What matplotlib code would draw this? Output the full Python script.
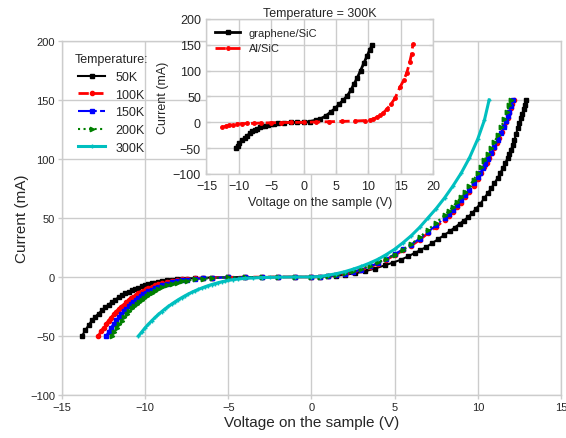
import numpy as np
import matplotlib
matplotlib.use("Agg")
import matplotlib.pyplot as plt

plt.rcParams['font.family'] = ['Liberation Sans', 'DejaVu Sans']
plt.rcParams['text.color'] = '#262626'
plt.rcParams['axes.labelcolor'] = '#262626'
plt.rcParams['xtick.color'] = '#262626'
plt.rcParams['ytick.color'] = '#262626'

# ---- main plot data: I-V curves at several temperatures ----
v_50K = [-13.8, -13.6, -13.4, -13.2, -13.0, -12.8, -12.6, -12.4, -12.2, -12.0, -11.8, -11.6,
         -11.4, -11.2, -11.0, -10.8, -10.6, -10.4, -10.2, -10.0, -9.8, -9.6, -9.4, -9.2,
         -9.0, -8.7, -8.4, -8.1, -7.8, -7.5, -7.0, -6.5, -6.0, -5.0, -4.0, -3.0, -2.0, -1.0,
         0.0, 0.5, 1.0, 1.5, 2.0, 2.6, 3.2, 3.8, 4.4, 4.9, 5.4, 5.8, 6.2, 6.55, 6.9, 7.25,
         7.6, 7.95, 8.3, 8.6, 8.9, 9.15, 9.4, 9.65, 9.9, 10.15, 10.4, 10.6, 10.8, 11.0,
         11.2, 11.35, 11.5, 11.65, 11.8, 11.9, 12.0, 12.1, 12.2, 12.3, 12.4, 12.5, 12.6,
         12.68, 12.75, 12.83, 12.9]
i_50K = [-50, -45.3, -40.8, -36.8, -33.7, -31, -28.3, -25.8, -23.4, -21.2, -19.2, -17.3,
         -15.6, -14.0, -12.6, -11.4, -10.2, -9.1, -8.0, -7.0, -6.2, -5.4, -4.7, -4.0,
         -3.4, -2.8, -2.3, -1.9, -1.6, -1.3, -1.0, -0.7, -0.5, -0.25, -0.1, -0.05, 0, 0,
         0, 0.2, 0.6, 1.1, 1.8, 3.1, 4.7, 7.1, 9.8, 12.2, 14.7, 17.4, 20.3, 22.8, 25.4, 28.6,
         31.9, 35.2, 38.6, 41.8, 45, 47.8, 50.5, 54, 58, 62, 67, 71, 75, 79.5,
         84, 88, 92, 96.5, 101, 104.5, 108, 112, 116, 121, 126, 130.5, 135,
         138.5, 142, 146, 150]

v_100K = [-12.81, -12.65, -12.5, -12.35, -12.2, -12.05, -11.9, -11.75, -11.6, -11.45, -11.3,
          -11.15, -11.0, -10.85, -10.7, -10.55, -10.4, -10.25, -10.1, -9.95, -9.8, -9.6,
          -9.4, -9.2, -9.0, -8.7, -8.4, -8.1, -7.8, -7.5, -7.0, -6.5, -6.0, -5.0, -4.0,
          -3.0, -2.0, -1.0, 0.0, 0.5, 1.0, 1.5, 2.0, 2.5, 3.0, 3.5, 4.0, 4.5, 5.0, 5.5, 6.0,
          6.5, 7.0, 7.5, 8.0, 8.25, 8.5, 8.75, 9.0, 9.25, 9.5, 9.75, 10.0, 10.2, 10.4, 10.55,
          10.7, 10.85, 11.0, 11.15, 11.3, 11.45, 11.6, 11.7, 11.8, 11.9, 12.0, 12.08, 12.15]
i_100K = [-50, -46, -43, -40, -37, -34.5, -31.7, -29.3, -27.3, -25.3, -23.4,
          -21.5, -19.8, -18.2, -16.7, -15.3, -14.0, -12.8, -11.6, -10.5, -9.5, -8.3,
          -7.1, -6.1, -5.2, -4.2, -3.3, -2.6, -2.1, -1.7, -1.2, -0.9, -0.6, -0.3, -0.15,
          -0.1, 0, 0, 0, 0.2, 0.7, 1.4, 2.5, 4, 6, 8.5, 11.3, 14.7, 18.5, 22.5, 26.5,
          31.5, 37, 42.5, 48.5, 51.7, 55, 59, 63, 67.5, 72, 77.5, 83, 88, 93, 97,
          101, 105, 109, 113.5, 118, 123, 128, 131.5, 135, 139, 143, 146.5, 150]

v_150K = [-12.35, -12.2, -12.05, -11.9, -11.75, -11.6, -11.45, -11.3, -11.15, -11.0, -10.85,
          -10.7, -10.55, -10.4, -10.25, -10.1, -9.95, -9.8, -9.6, -9.4, -9.2, -9.0, -8.7,
          -8.4, -8.1, -7.8, -7.5, -7.0, -6.5, -6.0, -5.0, -4.0, -3.0, -2.0, -1.0, 0.0, 0.5,
          1.0, 1.5, 2.0, 2.5, 3.0, 3.5, 4.0, 4.5, 5.0, 5.5, 6.0, 6.5, 7.0, 7.5, 8.0, 8.25,
          8.5, 8.75, 9.0, 9.25, 9.5, 9.75, 10.0, 10.15, 10.3, 10.45, 10.6, 10.8, 11.0, 11.2,
          11.4, 11.55, 11.7, 11.8, 11.9, 12.0, 12.1]
i_150K = [-50, -46.5, -43, -39.6, -36.5, -33.8, -31.3, -29, -26.8, -24.7, -22.7,
          -20.9, -19.2, -17.6, -16.1, -14.7, -13.4, -12.2, -10.8, -9.4, -8.1, -7.0, -5.6,
          -4.5, -3.6, -2.9, -2.3, -1.6, -1.1, -0.8, -0.3, -0.15, -0.1, 0, 0, 0, 0.2,
          0.8, 1.5, 2.7, 4.3, 6.3, 8.9, 11.8, 15.3, 19.2, 23.5, 27.5, 32.5, 38, 44, 50, 53.5,
          57, 61, 65, 69.5, 74, 79.5, 85, 88.5, 92, 96, 100, 105, 110, 116,
          122, 127, 132, 136, 140, 144.5, 150]

v_200K = [-12.0, -11.85, -11.7, -11.55, -11.4, -11.25, -11.1, -10.95, -10.8, -10.65, -10.5,
          -10.35, -10.2, -10.05, -9.9, -9.75, -9.6, -9.4, -9.2, -9.0, -8.7, -8.4, -8.1,
          -7.8, -7.5, -7.0, -6.5, -6.0, -5.0, -4.0, -3.0, -2.0, -1.0, 0.0, 0.5, 1.0, 1.5,
          2.0, 2.5, 3.0, 3.5, 4.0, 4.5, 5.0, 5.5, 6.0, 6.5, 7.0, 7.5, 8.0, 8.25, 8.5, 8.75,
          9.0, 9.25, 9.5, 9.75, 10.0, 10.2, 10.4, 10.6, 10.8, 11.0, 11.2, 11.4, 11.6, 11.75,
          11.9, 12.0]
i_200K = [-50, -46.5, -43.2, -40, -37, -34.2, -31.5, -29, -26.7, -24.6, -22.6,
          -20.8, -19.1, -17.5, -16.0, -14.6, -13.3, -11.7, -10.2, -8.9, -7.2, -5.8, -4.7,
          -3.8, -3.0, -2.0, -1.3, -0.9, -0.3, -0.15, -0.1, 0, 0, 0, 0.3, 0.9, 1.7,
          3, 4.8, 7, 9.6, 12.5, 15.5, 18.8, 23, 28, 33.5, 40, 46, 52.5, 56, 59.5, 63.5,
          67.5, 72, 77, 82.5, 88, 93.5, 99, 104, 109, 114.5, 120, 127, 134, 140,
          146, 150]

v_300K = [-10.4, -10.2, -10.0, -9.8, -9.6, -9.4, -9.2, -9.0, -8.8, -8.6, -8.4, -8.2, -8.0,
          -7.8, -7.6, -7.4, -7.2, -7.0, -6.8, -6.6, -6.4, -6.2, -6.0, -5.8, -5.6, -5.4,
          -5.2, -5.0, -4.7, -4.4, -4.0, -3.5, -3.0, -2.5, -2.0, -1.0, 0.0, 0.5, 1.0, 1.5,
          2.0, 2.5, 3.0, 3.5, 4.0, 4.5, 5.0, 5.5, 6.0, 6.5, 7.0, 7.5, 8.0, 8.5, 9.0, 9.5,
          10.0, 10.4, 10.68]
i_300K = [-50, -46.5, -43, -40, -37, -34.3, -31.7, -29.3, -27, -24.9, -22.9, -21, -19.2,
          -17.5, -15.9, -14.4, -13.0, -11.7, -10.5, -9.4, -8.3, -7.3, -6.4, -5.6, -4.8, -4.1,
          -3.5, -2.9, -2.2, -1.7, -1.2, -0.8, -0.5, -0.3, -0.2, 0, 0, 0.4, 1.5, 2.8,
          4.5, 6.6, 9, 11.8, 15, 19, 23.5, 29, 35, 42, 50, 58, 67, 77, 88, 101,
          117, 133, 150]

# ---- inset data: 300K, two contact types ----
v_graphene = [-10.45, -10.2, -9.9, -9.5, -9.1, -8.7, -8.3, -7.9, -7.5, -7.2, -6.8, -6.4,
              -6.0, -5.5, -5.0, -4.5, -4.0, -3.0, -2.0, -1.0, 0.0, 1.0, 2.0, 2.6, 3.5,
              4.2, 4.9, 5.5, 6.1, 6.75, 7.3, 7.8, 8.3, 8.8, 9.3, 9.8, 10.2, 10.6]
i_graphene = [-50, -45, -40, -35, -30.5, -26, -21.5, -17.5, -14.5, -12.5, -10, -8,
              -6.3, -4.8, -3.5, -2.5, -1.7, -0.8, -0.3, -0.1, 0, 1.5, 4.5, 6.4, 13,
              20, 27, 35, 42.5, 51, 62, 74, 86, 100, 114, 128, 139, 150]

v_al = [-12.6, -12.0, -11.5, -10.9, -10.3, -9.5, -8.7, -7.7, -6.5, -5.0, -3.5, -2.0, 0.0,
        2.0, 4.0, 6.0, 8.0, 9.5, 10.3, 10.8, 11.3, 11.8, 12.3, 12.9, 13.5, 14.15, 14.9,
        15.5, 15.95, 16.4, 16.7, 16.9]
i_al = [-9.7, -7.5, -6, -4.5, -3.2, -2.6, -2.2, -1.9, -1.4, -0.9, -0.5, -0.2, 0,
        0.6, 1.2, 1.8, 2.6, 3.4, 4.5, 6.5, 9.7, 13.5, 18, 26, 35, 47, 68,
        82, 96, 116, 133, 151]

grid_c = '#cccccc'

fig = plt.figure(figsize=(5.66, 4.39), dpi=100)
ax = fig.add_axes([0.1095, 0.098, 0.8816, 0.8064])

ax.plot(v_50K, i_50K, color='k', ls='-', lw=1.5, marker='s', ms=3.5, label='50K')
ax.plot(v_100K, i_100K, color='r', ls='--', lw=2, marker='o', ms=3, mec='r', label='100K')
ax.plot(v_150K, i_150K, color='b', ls='-.', lw=1.5, marker='s', ms=2.8, mec='b', label='150K')
ax.plot(v_200K, i_200K, color='g', ls=':', lw=1.5, marker='>', ms=3.2, mec='g', label='200K')
ax.plot(v_300K, i_300K, color='c', ls='-', lw=2.2, marker='+', ms=3, label='300K')

ax.set_xlim(-15, 15)
ax.set_ylim(-100, 200)
ax.set_xticks(np.arange(-15, 16, 5))
ax.set_yticks(np.arange(-100, 201, 50))
ax.set_xlabel('Voltage on the sample (V)', fontsize=11, labelpad=2)
ax.set_ylabel('Current (mA)', fontsize=11, labelpad=1)
ax.tick_params(labelsize=8, length=3, width=1, color=grid_c, pad=2)
ax.grid(True, color=grid_c, lw=1)
ax.set_axisbelow(True)
for s in ax.spines.values():
    s.set_color(grid_c)
    s.set_linewidth(1)

ax.legend(loc='upper left', bbox_to_anchor=(0.0, 1.0), frameon=False,
          title='Temperature:', fontsize=9, title_fontsize=9, numpoints=1,
          handlelength=2.2, labelspacing=0.45, borderaxespad=0.6)

# ---- inset ----
axin = fig.add_axes([0.3648, 0.6014, 0.4002, 0.3531])
axin.set_facecolor('white')
axin.plot(v_graphene, i_graphene, color='k', ls='-', lw=2, marker='s', ms=3.5, label='graphene/SiC')
axin.plot(v_al, i_al, color='r', ls='--', lw=2, marker='o', ms=2.5, mec='r', label='Al/SiC')
axin.set_xlim(-15, 20)
axin.set_ylim(-100, 200)
axin.set_xticks(np.arange(-15, 21, 5))
axin.set_yticks(np.arange(-100, 201, 50))
axin.set_xlabel('Voltage on the sample (V)', fontsize=9, labelpad=3)
axin.set_ylabel('Current (mA)', fontsize=9, labelpad=3)
axin.set_title('Temperature = 300K', fontsize=9, pad=1.5)
axin.tick_params(labelsize=9, length=3, width=1, color=grid_c, pad=4, right=True, direction='in')
axin.grid(True, color=grid_c, lw=1)
axin.set_axisbelow(True)
for s in axin.spines.values():
    s.set_color(grid_c)
    s.set_linewidth(1)
axin.legend(loc='upper left', frameon=False, fontsize=8, handlelength=2.2, numpoints=1,
            labelspacing=0.5, borderaxespad=0.4)

fig.savefig('out.png', dpi=100)
